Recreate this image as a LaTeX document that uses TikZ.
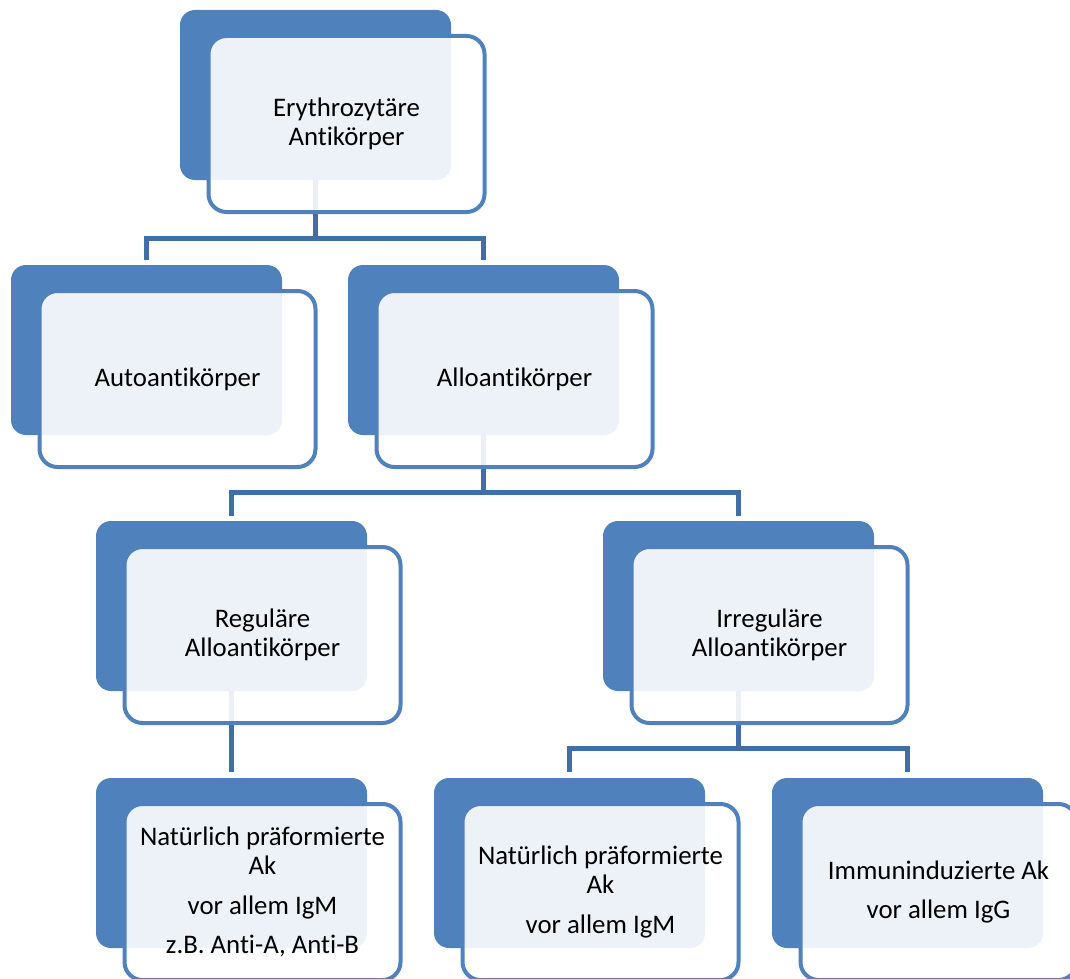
\documentclass[tikz,border=0pt]{standalone}
\usepackage{fontspec}
\setmainfont[Ligatures={NoCommon,NoContextual},RawFeature={-calt}]{Carlito}
\usetikzlibrary{calc}
\definecolor{accent}{HTML}{4F81BD}
\definecolor{connc}{HTML}{416EA6}
\tikzset{
  backbox/.style={fill=accent, draw=none, rounded corners=15pt, inner sep=0pt,
    minimum width=271pt, minimum height=170pt},
  frontbox/.style={fill=white, fill opacity=0.9, text opacity=1, draw=accent, draw opacity=1,
    line width=4pt, rounded corners=18pt, inner sep=0pt, minimum width=276pt, minimum height=176pt,
    align=center, text=black, font=\fontsize{26.8}{28.8}\selectfont},
  conn/.style={draw=connc, line width=5pt}
}
\begin{document}
\begin{tikzpicture}[x=1pt,y=-1pt]
\useasboundingbox (0,0) rectangle (1070,979);
\clip (0,0) rectangle (1070,979);
% back boxes positions (centres)
\coordinate (p1) at (315.5,95);
\coordinate (p2) at (146.5,350);
\coordinate (p3) at (483.5,350);
\coordinate (p4) at (231.5,606);
\coordinate (p5) at (738.5,606);
\coordinate (p6) at (231.5,863);
\coordinate (p7) at (569.5,863);
\coordinate (p8) at (907.5,863);
% junctions of the buses
\coordinate (j1) at (315.5,238);
\coordinate (j2) at (483.5,492);
\coordinate (j3) at (738.5,748);
% top ends of the drops
\coordinate (t2) at (146.5,260);
\coordinate (t3) at (483.5,260);
\coordinate (t4) at (231.5,516);
\coordinate (t5) at (738.5,516);
\coordinate (t6) at (231.5,772);
\coordinate (t7) at (569.5,772);
\coordinate (t8) at (907.5,772);
% connectors (behind the boxes)
\draw[conn] (p1) -- (j1);
\draw[conn] (t2) |- (j1) -| (t3);
\draw[conn] (p3) -- (j2);
\draw[conn] (t4) |- (j2) -| (t5);
\draw[conn] (p4) -- (t6);
\draw[conn] (p5) -- (j3);
\draw[conn] (t7) |- (j3) -| (t8);
% boxes
\node[backbox] (b1) at (p1) {};
\node[frontbox] (f1) at ($(p1)+(31,29)$) {Erythrozytäre\\Antikörper};
\node[backbox] (b2) at (p2) {};
\node[frontbox] (f2) at ($(p2)+(31,29)$) {Autoantikörper};
\node[backbox] (b3) at (p3) {};
\node[frontbox] (f3) at ($(p3)+(31,29)$) {Alloantikörper};
\node[backbox] (b4) at (p4) {};
\node[frontbox] (f4) at ($(p4)+(31,29)$) {Reguläre\\Alloantikörper};
\node[backbox] (b5) at (p5) {};
\node[frontbox] (f5) at ($(p5)+(31,29)$) {Irreguläre\\Alloantikörper};
\node[backbox] (b6) at (p6) {};
\node[frontbox] (f6) at ($(p6)+(31,29)$) {Natürlich präformierte\\Ak\\[11pt]vor allem IgM\\[11pt]z.B. Anti-A, Anti-B};
\node[backbox] (b7) at (p7) {};
\node[frontbox] (f7) at ($(p7)+(31,29)$) {Natürlich präformierte\\Ak\\[11pt]vor allem IgM};
\node[backbox] (b8) at (p8) {};
\node[frontbox] (f8) at ($(p8)+(31,29)$) {Immuninduzierte Ak\\[11pt]vor allem IgG};
\end{tikzpicture}
\end{document}
